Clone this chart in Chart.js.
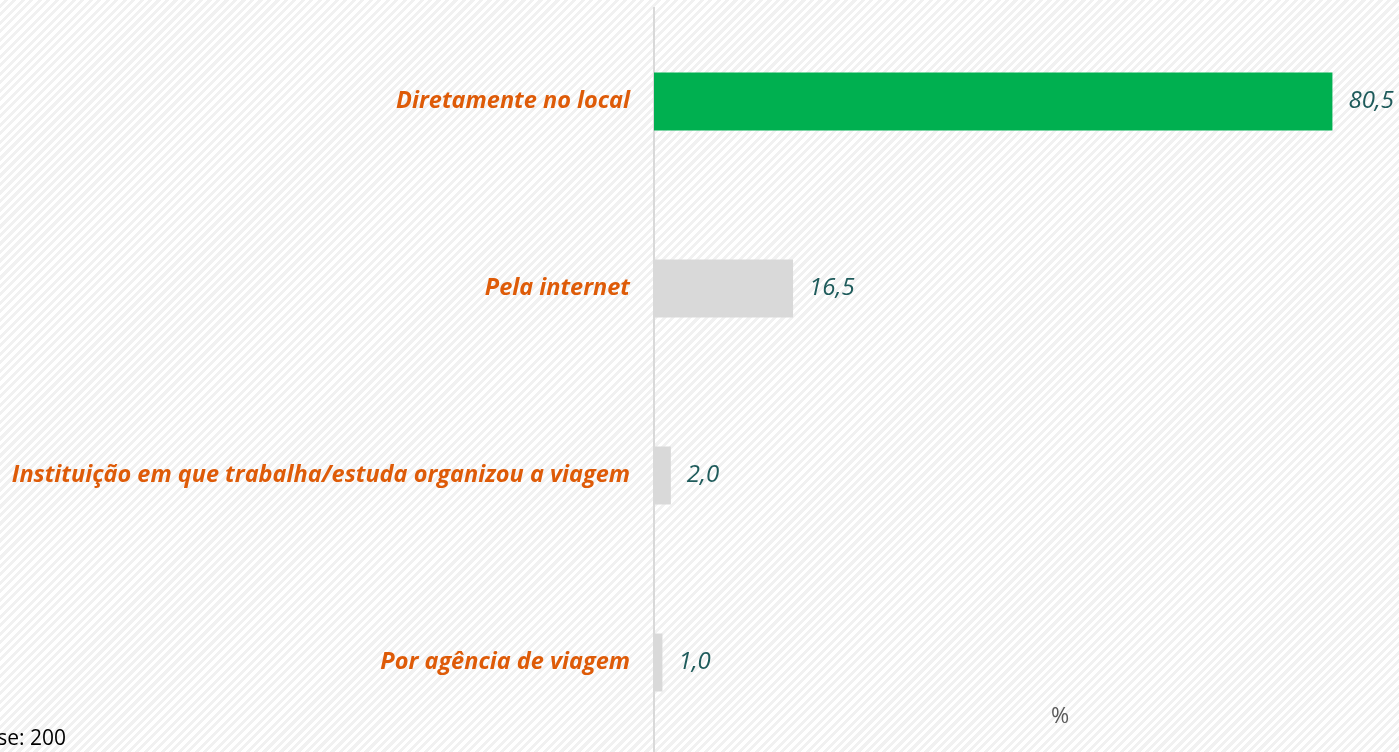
<!DOCTYPE html>
<html>
<head>
<meta charset="utf-8">
<script src="https://cdn.jsdelivr.net/npm/chart.js@4"></script>
<style>
  html, body { margin: 0; padding: 0; overflow: hidden; }
  body {
    width: 1399px; height: 752px; position: relative;
    background: repeating-linear-gradient(135deg, #ffffff 0 3px, #f1f1f1 3px 6px);
    font-family: 'Open Sans', sans-serif;
  }
  #wrap { position: absolute; left: 0; top: 0; width: 1399px; height: 760px; }
  .note { position: absolute; font-size: 21px; color: #000; white-space: nowrap; }
</style>
</head>
<body>
<div id="wrap"><canvas id="chart"></canvas></div>
<div class="note" style="left:1051px; top:699px; color:#595959; font-size:22px;">%</div>
<div class="note" style="right:1333px; top:723px;">Base: 200</div>

<script>
// ── Data ────────────────────────────────────────────────
const categories = [
    'Diretamente no local',
    'Pela internet',
    'Instituição em que trabalha/estuda organizou a viagem',
    'Por agência de viagem'
];
const values = [80.5, 16.5, 2.0, 1.0];
const barColors = ['#00B050', '#D9D9D9', '#D9D9D9', '#D9D9D9'];

// ── Value labels after each bar ─────────────────────────
const valueLabels = {
    id: 'valueLabels',
    afterDatasetsDraw(chart) {
        const ctx = chart.ctx;
        const meta = chart.getDatasetMeta(0);
        ctx.save();
        ctx.font = "italic 24px 'Open Sans', sans-serif";
        ctx.fillStyle = '#1E5B5B';
        ctx.textAlign = 'left';
        ctx.textBaseline = 'middle';
        meta.data.forEach((bar, i) => {
            ctx.fillText(values[i].toFixed(1).replace('.', ','), bar.x + 16, bar.y);
        });
        ctx.restore();
    }
};

const ctx = document.getElementById('chart').getContext('2d');
new Chart(ctx, {
    type: 'bar',
    data: {
        labels: categories,
        datasets: [{
            data: values,
            backgroundColor: barColors,
            borderWidth: 0,
            categoryPercentage: 1,
            barPercentage: 0.31
        }]
    },
    options: {
        indexAxis: 'y',
        responsive: true,
        maintainAspectRatio: false,
        animation: false,
        layout: { padding: { top: 8, right: 0, bottom: 4, left: 0 } },
        plugins: {
            legend: { display: false },
            tooltip: { enabled: false }
        },
        scales: {
            x: {
                display: false,
                min: 0,
                max: 88.4
            },
            y: {
                afterFit(scale) {
                    scale.width = 654;
                    // no extra room above/below for the labels
                    scale.paddingTop = 0;
                    scale.paddingBottom = 0;
                },
                grid: { display: false, drawTicks: false },
                border: { display: true, color: '#D9D9D9', width: 2 },
                ticks: {
                    padding: 24,
                    color: '#DE5B08',
                    font: { family: "'Open Sans', sans-serif", size: 23.5, weight: 'bold', style: 'italic' }
                }
            }
        }
    },
    plugins: [valueLabels]
});
</script>
</body>
</html>
